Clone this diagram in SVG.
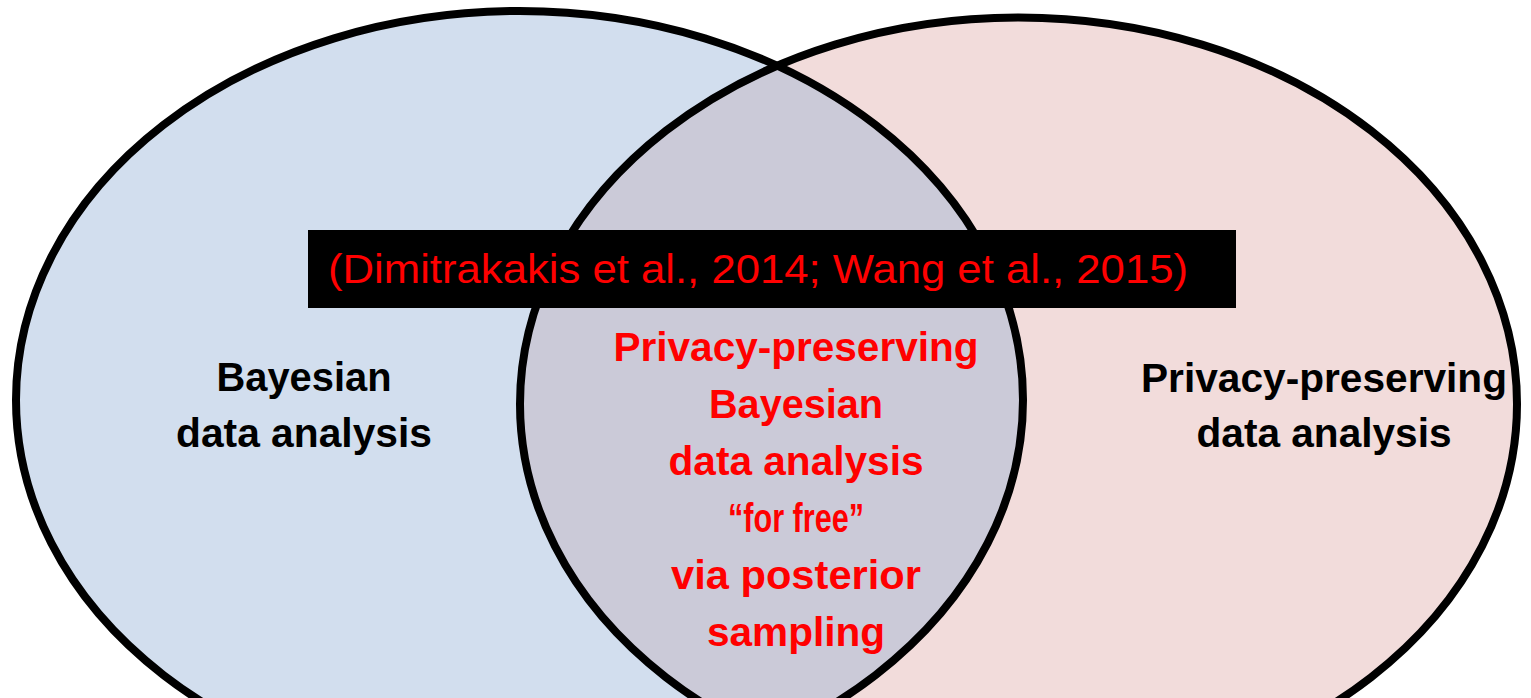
<svg xmlns="http://www.w3.org/2000/svg" width="1531" height="698" viewBox="0 0 1531 698">
  <style>
    .ring { fill: none; stroke: #000; stroke-width: 8; }
    .lbl { font-family: "Liberation Sans", Arial, sans-serif; font-weight: bold; font-size: 40px; text-anchor: middle; }
    .black { fill: #000; }
    .red { fill: #ff0000; }
    .cite { font-family: "Liberation Sans", Arial, sans-serif; font-size: 41px; fill: #ff0000; }
  </style>
  <defs>
    <ellipse id="leftShape" cx="519.5" cy="400" rx="503.5" ry="389"/>
    <ellipse id="rightShape" cx="1018.5" cy="404" rx="498.5" ry="386.5"/>
    <clipPath id="leftClip">
      <use href="#leftShape"/>
    </clipPath>
  </defs>
  <rect width="1531" height="698" fill="#fff"/>

  <!-- set fills -->
  <g id="set-bayesian">
    <use href="#leftShape" fill="#d2deee"/>
  </g>
  <g id="set-privacy">
    <use href="#rightShape" fill="#f2dcdb"/>
  </g>
  <g id="set-overlap">
    <use href="#rightShape" fill="#cbcad8" clip-path="url(#leftClip)"/>
  </g>

  <!-- outlines -->
  <g id="outlines">
    <use href="#leftShape" class="ring"/>
    <use href="#rightShape" class="ring"/>
  </g>

  <!-- citation banner -->
  <g id="citation">
    <rect x="308" y="230" width="928" height="78" fill="#000"/>
    <text class="cite" x="328" y="283" textLength="860" lengthAdjust="spacingAndGlyphs">(Dimitrakakis et al., 2014; Wang et al., 2015)</text>
  </g>

  <!-- set labels -->
  <g id="label-bayesian" class="lbl black">
    <text x="304" y="391" textLength="175" lengthAdjust="spacingAndGlyphs">Bayesian</text>
    <text x="304" y="447" textLength="256" lengthAdjust="spacingAndGlyphs">data analysis</text>
  </g>
  <g id="label-privacy" class="lbl black">
    <text x="1324" y="392" textLength="366" lengthAdjust="spacingAndGlyphs">Privacy-preserving</text>
    <text x="1324" y="447" textLength="255" lengthAdjust="spacingAndGlyphs">data analysis</text>
  </g>
  <g id="label-overlap" class="lbl red">
    <text x="796" y="361" textLength="365" lengthAdjust="spacingAndGlyphs">Privacy-preserving</text>
    <text x="796" y="418" textLength="174" lengthAdjust="spacingAndGlyphs">Bayesian</text>
    <text x="796" y="475" textLength="255" lengthAdjust="spacingAndGlyphs">data analysis</text>
    <text x="796" y="532" textLength="136" lengthAdjust="spacingAndGlyphs">“for free”</text>
    <text x="796" y="589" textLength="250" lengthAdjust="spacingAndGlyphs">via posterior</text>
    <text x="796" y="646" textLength="178" lengthAdjust="spacingAndGlyphs">sampling</text>
  </g>
</svg>
